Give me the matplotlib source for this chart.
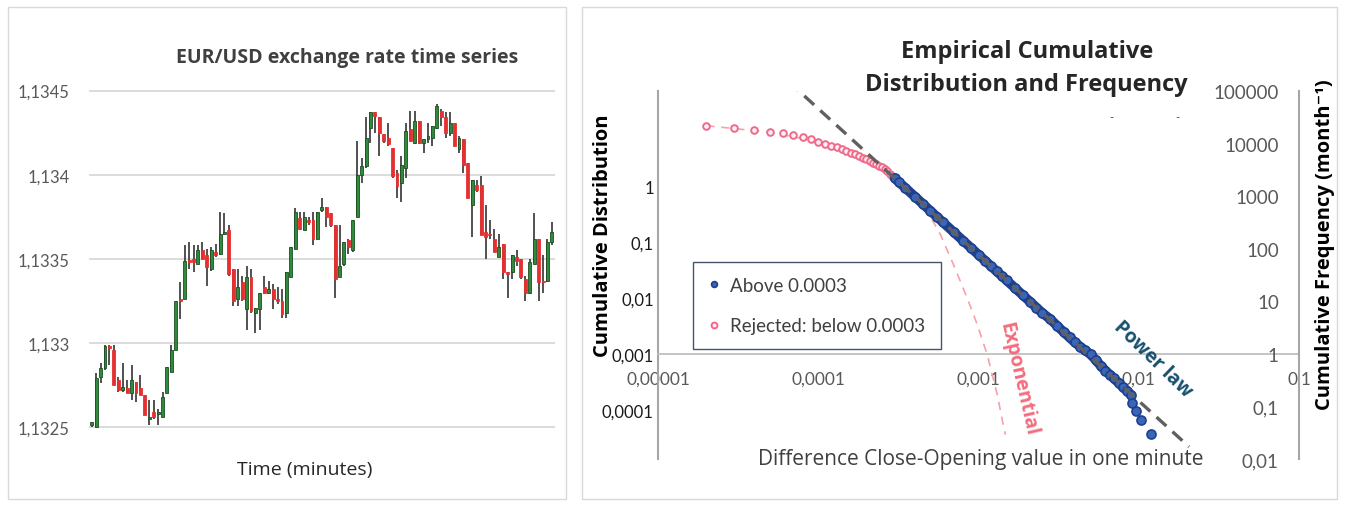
import numpy as np
import matplotlib
matplotlib.use('Agg')
import matplotlib.pyplot as plt
from matplotlib.patches import Rectangle

plt.rcParams['font.family'] = ['Lato', 'DejaVu Sans']
HEAD = ['Open Sans', 'DejaVu Sans']

# ---- left panel: EUR/USD one-minute candles ----
open_ = [1.13251, 1.13250, 1.13280, 1.13285, 1.13298, 1.13296, 1.13278, 1.13272, 1.13273, 1.13270,
         1.13277, 1.13273, 1.13269, 1.13255, 1.13259, 1.13258, 1.13256, 1.13270, 1.13283, 1.13296,
         1.13326, 1.13326, 1.13349, 1.13350, 1.13347, 1.13355, 1.13352, 1.13344, 1.13354, 1.13353,
         1.13365, 1.13367, 1.13344, 1.13326, 1.13336, 1.13320, 1.13339, 1.13318, 1.13320, 1.13333,
         1.13330, 1.13332, 1.13326, 1.13325, 1.13318, 1.13339, 1.13356, 1.13374, 1.13367, 1.13373,
         1.13373, 1.13362, 1.13379, 1.13381, 1.13377, 1.13370, 1.13339, 1.13347, 1.13361, 1.13355,
         1.13375, 1.13400, 1.13405, 1.13428, 1.13437, 1.13434, 1.13424, 1.13422, 1.13416, 1.13401,
         1.13395, 1.13404, 1.13427, 1.13419, 1.13432, 1.13419, 1.13421, 1.13422, 1.13428, 1.13438,
         1.13434, 1.13425, 1.13431, 1.13415, 1.13421, 1.13407, 1.13382, 1.13394, 1.13394, 1.13366,
         1.13365, 1.13362, 1.13351, 1.13359, 1.13342, 1.13342, 1.13351, 1.13350, 1.13338, 1.13330,
         1.13347, 1.13362, 1.13337, 1.13337, 1.13360]
high = [1.13253, 1.13282, 1.13288, 1.13299, 1.13299, 1.13299, 1.13280, 1.13288, 1.13278, 1.13287,
        1.13277, 1.13281, 1.13269, 1.13266, 1.13266, 1.13261, 1.13271, 1.13286, 1.13299, 1.13325,
        1.13336, 1.13358, 1.13360, 1.13358, 1.13358, 1.13360, 1.13356, 1.13357, 1.13359, 1.13378,
        1.13377, 1.13370, 1.13344, 1.13344, 1.13340, 1.13346, 1.13344, 1.13321, 1.13330, 1.13340,
        1.13337, 1.13335, 1.13333, 1.13332, 1.13342, 1.13357, 1.13380, 1.13378, 1.13378, 1.13375,
        1.13378, 1.13378, 1.13386, 1.13381, 1.13377, 1.13370, 1.13370, 1.13360, 1.13362, 1.13373,
        1.13420, 1.13410, 1.13434, 1.13437, 1.13437, 1.13434, 1.13424, 1.13431, 1.13416, 1.13403,
        1.13411, 1.13431, 1.13438, 1.13438, 1.13432, 1.13421, 1.13431, 1.13429, 1.13442, 1.13439,
        1.13437, 1.13437, 1.13431, 1.13423, 1.13421, 1.13407, 1.13397, 1.13397, 1.13399, 1.13382,
        1.13373, 1.13368, 1.13365, 1.13359, 1.13342, 1.13352, 1.13355, 1.13350, 1.13340, 1.13350,
        1.13377, 1.13362, 1.13352, 1.13362, 1.13372]
low = [1.13250, 1.13250, 1.13276, 1.13284, 1.13287, 1.13275, 1.13271, 1.13271, 1.13270, 1.13266,
       1.13265, 1.13269, 1.13257, 1.13251, 1.13255, 1.13251, 1.13256, 1.13270, 1.13283, 1.13296,
       1.13314, 1.13326, 1.13344, 1.13342, 1.13347, 1.13350, 1.13334, 1.13343, 1.13351, 1.13352,
       1.13364, 1.13340, 1.13322, 1.13322, 1.13325, 1.13308, 1.13318, 1.13306, 1.13308, 1.13329,
       1.13329, 1.13320, 1.13323, 1.13315, 1.13315, 1.13339, 1.13356, 1.13367, 1.13367, 1.13370,
       1.13358, 1.13362, 1.13378, 1.13369, 1.13369, 1.13327, 1.13339, 1.13346, 1.13353, 1.13354,
       1.13375, 1.13395, 1.13404, 1.13419, 1.13425, 1.13411, 1.13419, 1.13417, 1.13398, 1.13386,
       1.13384, 1.13398, 1.13420, 1.13418, 1.13418, 1.13413, 1.13419, 1.13417, 1.13427, 1.13429,
       1.13422, 1.13423, 1.13417, 1.13413, 1.13401, 1.13386, 1.13363, 1.13390, 1.13364, 1.13350,
       1.13362, 1.13354, 1.13351, 1.13338, 1.13327, 1.13338, 1.13346, 1.13338, 1.13325, 1.13329,
       1.13347, 1.13325, 1.13330, 1.13336, 1.13358]
close = [1.13253, 1.13279, 1.13285, 1.13298, 1.13297, 1.13275, 1.13272, 1.13274, 1.13270, 1.13278,
         1.13270, 1.13269, 1.13257, 1.13256, 1.13256, 1.13259, 1.13268, 1.13286, 1.13296, 1.13325,
         1.13325, 1.13349, 1.13348, 1.13348, 1.13355, 1.13350, 1.13345, 1.13355, 1.13352, 1.13365,
         1.13366, 1.13341, 1.13325, 1.13333, 1.13326, 1.13339, 1.13319, 1.13321, 1.13330, 1.13330,
         1.13332, 1.13326, 1.13325, 1.13317, 1.13342, 1.13357, 1.13378, 1.13368, 1.13375, 1.13372,
         1.13362, 1.13378, 1.13381, 1.13375, 1.13370, 1.13338, 1.13346, 1.13360, 1.13357, 1.13373,
         1.13400, 1.13405, 1.13422, 1.13437, 1.13435, 1.13425, 1.13420, 1.13418, 1.13399, 1.13393,
         1.13406, 1.13426, 1.13420, 1.13432, 1.13419, 1.13421, 1.13423, 1.13429, 1.13441, 1.13434,
         1.13425, 1.13431, 1.13417, 1.13422, 1.13406, 1.13386, 1.13397, 1.13391, 1.13364, 1.13363,
         1.13364, 1.13354, 1.13357, 1.13342, 1.13341, 1.13352, 1.13349, 1.13339, 1.13330, 1.13348,
         1.13362, 1.13336, 1.13336, 1.13360, 1.13366]
price_ticks = [1.1325, 1.133, 1.1335, 1.134, 1.1345]
price_labels = ['1,1325', '1,133', '1,1335', '1,134', '1,1345']

# ---- right panel: empirical cumulative distribution ----
rejected_x = [0.00002, 0.00003, 0.00004, 0.00005, 0.00006, 0.00007, 0.00008, 0.00009, 0.00010,
              0.00011, 0.00012, 0.00013, 0.00014, 0.00015, 0.00016, 0.00017, 0.00018, 0.00019,
              0.00020, 0.00021, 0.00022, 0.00023, 0.00024, 0.00025, 0.00026, 0.00027, 0.00028, 0.00029]
rejected_y = [21900, 19800, 18150, 16400, 15560, 14560, 13060, 11970, 10910,
              9910, 9080, 8430, 7830, 7230, 6710, 6230, 5840, 5420,
              4990, 4610, 4300, 4010, 3740, 3510, 3290, 2950, 2640, 2390]
above_x = [0.0003, 0.00032, 0.00035, 0.0004, 0.00045, 0.0005, 0.00055, 0.0006, 0.0007, 0.0008,
           0.0009, 0.001, 0.0011, 0.0012, 0.0013, 0.0014, 0.0015, 0.0017, 0.0019, 0.0021,
           0.0023, 0.0025, 0.0028, 0.0031, 0.0034, 0.0037, 0.004, 0.0043, 0.0046, 0.005,
           0.0054, 0.0058, 0.0062, 0.0066, 0.007, 0.0075, 0.008, 0.0085, 0.0089,
           0.00912, 0.00957, 0.0103, 0.0119]
above_y = [2190, 1830, 1425, 984, 709, 528, 405, 318, 207, 143,
           103, 76.9, 59.0, 46.3, 37.1, 30.2, 24.9, 17.6, 12.9, 9.8,
           7.6, 6.0, 4.6, 3.4, 2.6, 2.05, 1.65, 1.38, 1.18, 0.98,
           0.76, 0.59, 0.48, 0.40, 0.34, 0.28, 0.23, 0.195, 0.168,
           0.117, 0.0836, 0.0564, 0.0302]
exp_x = [0.00002, 0.00005, 0.0001, 0.00015, 0.0002, 0.00025, 0.0003, 0.00035, 0.0004, 0.000455,
         0.000579, 0.000698, 0.000849, 0.000982, 0.001133, 0.001309, 0.001439, 0.00147]
exp_y = [21900, 16400, 10900, 7230, 4990, 3510, 2300, 1560, 1060, 689,
         185, 49.9, 11.6, 3.61, 0.97, 0.168, 0.039, 0.029]
power_x = [0.000065, 0.0206]
power_y = [153000, 0.0171]

cdf_ticks = [0.0001, 0.001, 0.01, 0.1, 1]
cdf_labels = ['0,0001', '0,001', '0,01', '0,1', '1']
freq_ticks = [0.01, 0.1, 1, 10, 100, 1000, 10000, 100000]
freq_labels = ['0,01', '0,1', '1', '10', '100', '1000', '10000', '100000']
diff_ticks = [0.00001, 0.0001, 0.001, 0.01, 0.1]
diff_labels = ['0,00001', '0,0001', '0,001', '0,01', '0,1']

W, H = 1346, 506
fig = plt.figure(figsize=(W / 100, H / 100), dpi=100)


def fx(px):
    return px / W


def fy(py):
    return 1 - py / H


# panel frames
for x0, x1 in [(8, 566), (582, 1337)]:
    fig.patches.append(Rectangle((fx(x0), fy(500)), fx(x1) - fx(x0), fy(8) - fy(500),
                                 transform=fig.transFigure, fill=False,
                                 edgecolor='#d9d9d9', lw=1))

# left: candlesticks
ax1 = fig.add_axes([fx(89.3), fy(429), fx(555) - fx(89.3), fy(90.7) - fy(429)])
o = np.array(open_)
c = np.array(close)
xs = np.arange(len(o))
up = c >= o
body_h = np.maximum(np.abs(c - o), 0.000011)
body_b = np.where(np.abs(c - o) < 0.000011, (o + c) / 2 - 0.0000055, np.minimum(o, c))
ax1.vlines(xs, low, high, color='#333333', lw=1.2, zorder=2)
ax1.bar(xs, body_h, bottom=body_b, width=0.66,
        color=np.where(up, '#2f8a3c', '#e53030'),
        edgecolor=np.where(up, '#1b4d22', '#e53030'), lw=0.6, zorder=3)
ax1.set_xlim(-0.55, 104.7)
ax1.set_ylim(1.132495, 1.134505)
ax1.set_yticks(price_ticks, price_labels)
ax1.set_xticks([])
ax1.grid(axis='y', color='#d9d9d9', lw=1.3)
ax1.set_axisbelow(True)
for s in ax1.spines.values():
    s.set_visible(False)
ax1.tick_params(axis='y', length=0, pad=14, labelsize=12, labelcolor='#595959')

fig.text(fx(347), fy(58), 'EUR/USD exchange rate time series', ha='center', va='center',
         fontsize=14, fontweight='bold', color='#404040', family=HEAD)
fig.text(fx(305), fy(470), 'Time (minutes)', ha='center', va='center',
         fontsize=14, color='#262626', family=HEAD)

# right: log-log distribution
ax = fig.add_axes([fx(658), fy(460), fx(1299) - fx(658), fy(92) - fy(460)])
ax.set_xscale('log')
ax.set_yscale('log')
ax.set_xlim(1e-5, 1e-1)
ax.set_ylim(10 ** -4.875, 10 ** 1.70)
ax.set_xticks(diff_ticks, diff_labels)
ax.set_yticks(cdf_ticks, cdf_labels)
ax.minorticks_off()
ax.spines['top'].set_visible(False)
ax.spines['right'].set_visible(False)
ax.spines['bottom'].set_position(('data', 0.001))
ax.spines['bottom'].set_color('#bfbfbf')
ax.spines['bottom'].set_linewidth(1.3)
ax.spines['left'].set_color('#a6a6a6')
ax.spines['left'].set_linewidth(1.5)
ax.tick_params(axis='x', length=0, pad=12, labelsize=12.5, labelcolor='#595959')
ax.tick_params(axis='y', length=0, pad=3, labelsize=12, labelcolor='#1a1a1a')

ax2 = ax.twinx()
ax2.set_yscale('log')
ax2.set_ylim(0.01, 1e5)
ax2.set_yticks(freq_ticks, freq_labels)
ax2.minorticks_off()
for k in ['top', 'left', 'bottom']:
    ax2.spines[k].set_visible(False)
ax2.spines['right'].set_color('#a6a6a6')
ax2.spines['right'].set_linewidth(1.5)
ax2.tick_params(axis='y', length=0, pad=-14.5, labelsize=13.5, labelcolor='#595959')
for t in ax2.get_yticklabels():
    t.set_ha('right')

ax2.plot(exp_x, exp_y, ls=(0, (5, 4)), color='#f7a1aa', lw=1.2, zorder=2)
h_pink, = ax2.plot(rejected_x, rejected_y, 'o', mfc='#fff0f3', mec='#f06a8a', mew=1.4, ms=4.8,
                   label='Rejected: below 0.0003', zorder=3)
ax_arr = np.array(above_x)
ay_arr = np.array(above_y)
dense = ax_arr <= 0.0089
ax2.plot(ax_arr[dense], ay_arr[dense], '-', color='#1f3f8f', lw=7,
         solid_capstyle='round', zorder=4)
h_blue, = ax2.plot(above_x, above_y, 'o', mfc='#3a66b8', mec='#1f3f8f', ms=6.5, mew=1.2,
                   label='Above 0.0003', zorder=5)
ax2.plot(power_x, power_y, ls=(0, (4, 2.5)), color='#606060', lw=2.4, zorder=6)

leg = ax2.legend(handles=[h_blue, h_pink], loc='upper left',
                 bbox_to_anchor=(fx(693), fy(263)), bbox_transform=fig.transFigure,
                 frameon=True, fancybox=False, edgecolor='#44546a', framealpha=1,
                 fontsize=13.5, labelspacing=1.25, handlelength=0.6, handletextpad=0.6,
                 borderpad=0.8, borderaxespad=0, numpoints=1)
leg.get_frame().set_linewidth(1.0)
for t in leg.get_texts():
    t.set_color('#404040')
for h in leg.legend_handles:
    h.set_markersize(4.2)

fig.text(fx(1027), fy(52), 'Empirical Cumulative', ha='center', va='center',
         fontsize=17, fontweight='bold', color='#262626', family=HEAD)
fig.text(fx(1026), fy(85), 'Distribution and Frequency', ha='center', va='center',
         fontsize=17, fontweight='bold', color='#262626', family=HEAD)
fig.text(fx(603), fy(236), 'Cumulative Distribution', rotation=90, ha='center', va='center',
         fontsize=14.5, fontweight='bold', color='#000000', family=HEAD)
fig.text(fx(1325), fy(245), 'Cumulative Frequency (month\u207b\u00b9)', rotation=90,
         ha='center', va='center', fontsize=14.5, fontweight='bold', color='#000000',
         family=HEAD)
fig.text(fx(981), fy(460), 'Difference Close-Opening value in one minute', ha='center',
         va='center', fontsize=15, color='#404040', family=HEAD)
fig.text(fx(1153), fy(359), 'Power law', rotation=-44, rotation_mode='anchor', ha='center',
         va='center', fontsize=14, fontweight='bold', color='#17506e', family=HEAD)
fig.text(fx(1018), fy(379), 'Exponential', rotation=-77, rotation_mode='anchor', ha='center',
         va='center', fontsize=14, fontweight='bold', color='#f26d7d', family=HEAD)
for px in [1111, 1177]:
    fig.text(fx(px), fy(118), '-', ha='center', va='center', fontsize=8, color='#404040')

fig.savefig('out.png', dpi=100)
